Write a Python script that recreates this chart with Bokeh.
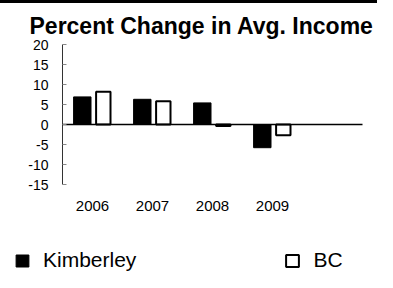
from bokeh.plotting import figure
from bokeh.models import Range1d, FixedTicker, Legend, LegendItem, ColumnDataSource, Div, LinearAxis
from bokeh.layouts import column
from bokeh.embed import file_html
from bokeh.resources import INLINE

years = ["2006", "2007", "2008", "2009"]
kimberley = [6.9, 6.3, 5.4, -5.8]
bc = [8.2, 5.8, -0.4, -2.7]
y_ticks = [-15, -10, -5, 0, 5, 10, 15, 20]
series_names = ["Kimberley", "BC"]
n_slots = 5

FONT = "Liberation Sans"
W = 377

centers = [i + 0.5 for i in range(len(years))]
src = ColumnDataSource(dict(
    xk=[c - 0.17 for c in centers],
    xb=[c + 0.18 for c in centers],
    k=kimberley, b=bc,
))

top_bar = Div(width=W, height=3, margin=0, styles={"background-color": "black"})

# frame covers the canvas below the title; axes are placed at fixed data locations
p = figure(width=W, height=269, output_backend="svg", toolbar_location=None,
           x_range=Range1d(-62 / 60, 315 / 60), y_range=Range1d(-37, 21.25),
           x_axis_location=None, y_axis_location=None,
           min_border_left=0, min_border_right=0, min_border_top=36, min_border_bottom=0)
p.outline_line_color = None
p.xgrid.visible = False
p.ygrid.visible = False

p.title.text = "Percent Change in Avg. Income"
p.title.text_font = FONT
p.title.text_font_size = "23px"
p.title.text_font_style = "bold"
p.title.text_color = "black"
p.title.align = "left"
p.title.offset = 29
p.title.standoff = 1

rk = p.vbar(x="xk", top="k", bottom=0, width=0.29, source=src,
            fill_color="black", line_color="black", line_width=1)
rb = p.vbar(x="xb", top="b", bottom=0, width=0.24, source=src,
            fill_color="white", line_color="black", line_width=2)

# category axis (labels only), sitting under the lowest y tick
xa = LinearAxis(fixed_location=y_ticks[0])
xa.ticker = FixedTicker(ticks=centers)
xa.major_label_overrides = {c: y for c, y in zip(centers, years)}
xa.axis_line_color = None
xa.major_tick_line_color = None
xa.minor_tick_line_color = None
xa.major_label_text_font = FONT
xa.major_label_text_font_size = "15px"
xa.major_label_text_color = "black"
xa.major_label_standoff = 10
p.add_layout(xa, "below")

# horizontal axis line through zero
za = LinearAxis(fixed_location=0, bounds=(0, n_slots))
za.ticker = FixedTicker(ticks=[])
za.axis_line_color = "black"
za.axis_line_width = 1.5
za.major_tick_line_color = None
za.minor_tick_line_color = None
za.major_label_text_font_size = "0px"
p.add_layout(za, "below")

ya = LinearAxis(fixed_location=0, bounds=(y_ticks[0], y_ticks[-1]))
ya.ticker = FixedTicker(ticks=y_ticks)
ya.major_label_overrides = {t: str(t) for t in y_ticks}
ya.axis_line_color = "#333333"
ya.major_tick_line_color = "#888888"
ya.major_tick_in = 4
ya.major_tick_out = 0
ya.minor_tick_line_color = None
ya.major_label_text_font = FONT
ya.major_label_text_font_size = "14px"
ya.major_label_text_color = "black"
ya.major_label_standoff = 14
p.add_layout(ya, "left")

legend = Legend(items=[LegendItem(label=series_names[0], renderers=[rk]),
                       LegendItem(label=series_names[1], renderers=[rb])],
                orientation="horizontal", location=(14, 0),
                padding=0, margin=0, spacing=148, label_standoff=13,
                glyph_width=16, glyph_height=15,
                label_text_font=FONT, label_text_font_size="21px", label_text_color="black",
                border_line_color=None, background_fill_alpha=0)
p.add_layout(legend, "center")

layout = column(top_bar, p, spacing=0)
open("out.html", "w").write(file_html(layout, INLINE))
